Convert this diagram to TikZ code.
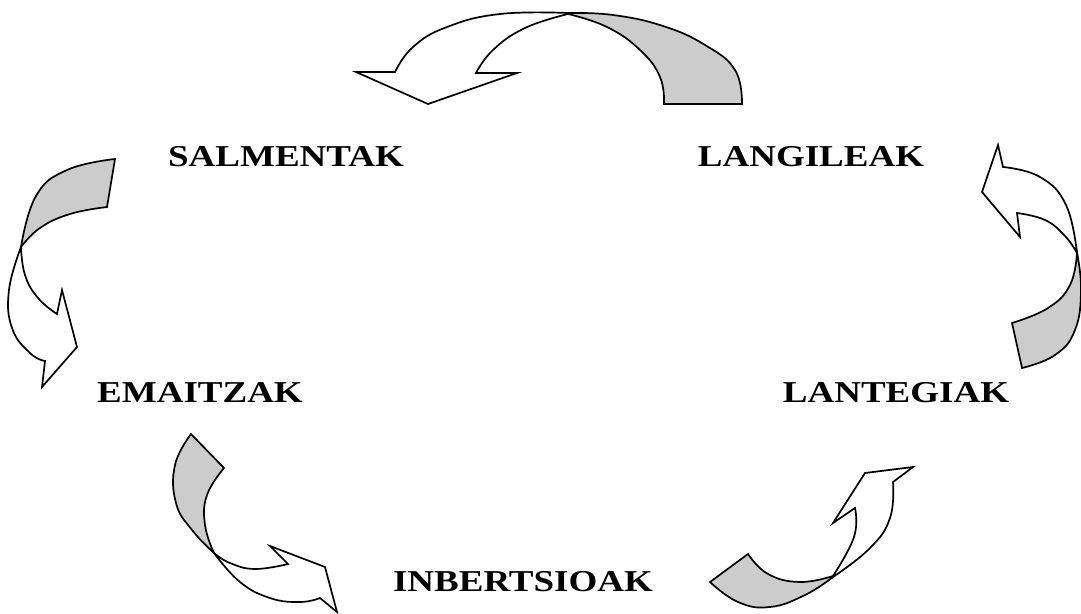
\documentclass[tikz,border=0pt]{standalone}
\usepackage{fontspec}
\usepackage{graphicx}
\setmainfont{Liberation Serif}
\tikzset{
  lbl/.style={anchor=base, inner sep=0pt, font=\fontsize{37}{40}\selectfont\bfseries},
  ribw/.style={draw=black, fill=white, line width=1.7pt, line join=miter},
  ribg/.style={draw=black, fill=black!20, line width=1.7pt, line join=miter},
  sm/.style={smooth, tension=0.75},
}
\newcommand{\sq}[1]{\scalebox{1}[0.82]{#1}}
\begin{document}
\begin{tikzpicture}[x=1pt,y=-1pt]
\useasboundingbox (0,0) rectangle (1081,613);
% labels
\node[lbl] (salmentak) at (286,166) {\sq{SALMENTAK}};
\node[lbl] (langileak) at (811,166) {\sq{LANGILEAK}};
\node[lbl] (emaitzak) at (200,402) {\sq{EMAITZAK}};
\node[lbl] (lantegiak) at (896,402) {\sq{LANTEGIAK}};
\node[lbl] (inbertsioak) at (523,591) {\sq{INBERTSIOAK}};
% arrow 1 (top): LANGILEAK -> SALMENTAK
\draw[ribg] plot[sm] coordinates {(742,104)(735,70)(705,45)(663,26)(613,15)(568,13)}
  -- plot[sm] coordinates {(568,14)(607,27)(640,50)(660,77)(664,104)} -- cycle;
\draw[ribw] plot[sm] coordinates {(568,13)(500,14)(447,27)(413,47)(395,72)}
  -- (356,72) -- (428,104) -- (517,73) -- (476,73)
  -- plot[sm] coordinates {(476,73)(493,50)(525,28)(568,14)} -- cycle;
% arrow 2 (left): SALMENTAK -> EMAITZAK
\draw[ribg] plot[sm] coordinates {(115,159)(67,170)(36,196)(21,247)}
  -- plot[sm] coordinates {(21,247)(40,228)(70,214)(107,207)} -- cycle;
\draw[ribw] plot[sm] coordinates {(21,247)(9,290)(12,328)(30,353)(45,361)}
  -- (42,387) -- (77,347) -- (62,290) -- (57,314)
  -- plot[sm] coordinates {(57,314)(38,298)(25,275)(21,247)} -- cycle;
% arrow 3 (right): LANTEGIAK -> LANGILEAK
\draw[ribg] plot[sm] coordinates {(1022,368)(1055,355)(1075,330)(1081,290)(1077,253)}
  -- plot[sm] coordinates {(1077,253)(1070,285)(1048,308)(1012,323)} -- cycle;
\draw[ribw] plot[sm] coordinates {(1077,253)(1066,205)(1040,177)(1003,167)}
  -- (998,145) -- (982,192) -- (1020,237) -- (1017,213)
  -- plot[sm] coordinates {(1017,213)(1045,220)(1065,236)(1077,253)} -- cycle;
% arrow 4 (bottom left): EMAITZAK -> INBERTSIOAK
\draw[ribg] plot[sm] coordinates {(191,434)(175,465)(176,503)(192,530)(214,553)}
  -- plot[sm] coordinates {(214,553)(205,525)(207,495)(224,468)} -- cycle;
\draw[ribw] plot[sm] coordinates {(214,553)(240,582)(270,598)(300,602)(320,598)}
  -- (337,612) -- (325,567) -- (270,546) -- (288,564)
  -- plot[sm] coordinates {(288,564)(255,569)(230,563)(214,553)} -- cycle;
% arrow 5 (bottom right): INBERTSIOAK -> LANTEGIAK
\draw[ribg] plot[sm] coordinates {(710,582)(738,602)(770,607)(805,595)(833,577)}
  -- plot[sm] coordinates {(833,576)(800,582)(768,574)(748,554)} -- cycle;
\draw[ribw] plot[sm] coordinates {(833,577)(870,548)(890,518)(893,482)}
  -- (913,467) -- (865,473) -- (833,523) -- (855,508)
  -- plot[sm] coordinates {(855,508)(854,537)(833,576)} -- cycle;
\end{tikzpicture}
\end{document}
